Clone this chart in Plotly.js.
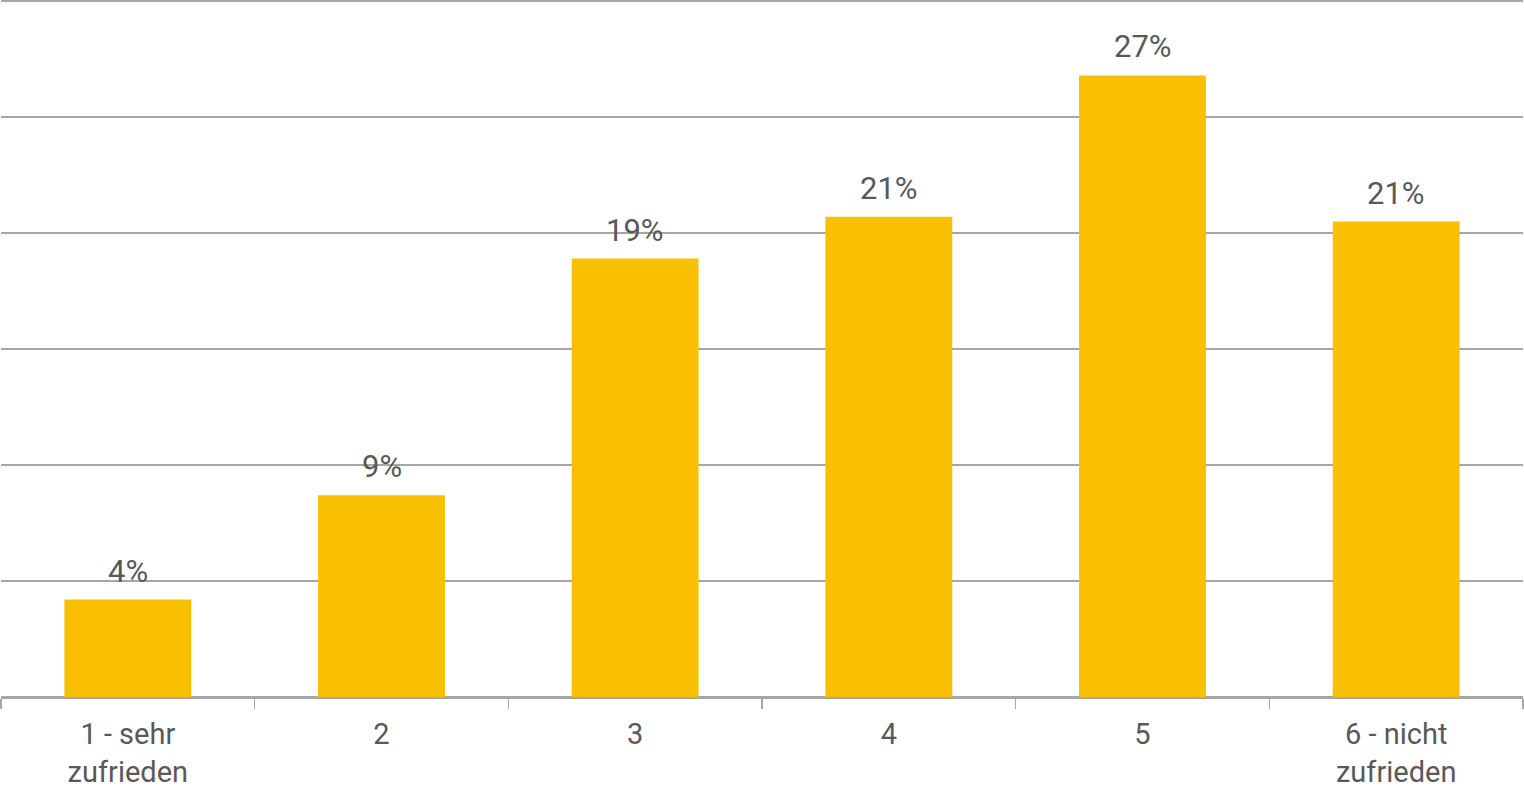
<!DOCTYPE html>
<html><head><meta charset="utf-8">
<script src="https://cdn.plot.ly/plotly-3.0.1.min.js"></script>
<style>html,body{margin:0;padding:0;background:#fff}#c{width:1524px;height:790px}</style>
</head><body><div id="c"></div>
<script>
const categories = ["1 - sehr<br>zufrieden", "2", "3", "4", "5", "6 - nicht<br>zufrieden"];
const values = [4.2, 8.7, 18.9, 20.7, 26.8, 20.5];
const labels = ["4%", "9%", "19%", "21%", "27%", "21%"];

const textColor = "#595959";
const fontFam = "'Roboto', 'Liberation Sans', sans-serif";

const annotations = categories.map((c, i) => ({
  x: i, y: values[i], text: labels[i],
  xref: "x", yref: "y",
  showarrow: false, yanchor: "bottom", yshift: 8,
  font: {color: textColor, size: 31, family: fontFam}
}));

Plotly.newPlot("c", [{
  type: "bar",
  x: categories,
  y: values,
  marker: {color: "#F8C000"},
  hoverinfo: "skip"
}], {
  width: 1524, height: 790,
  margin: {l: 1, r: 1, t: 0, b: 93, pad: 0},
  paper_bgcolor: "#fff", plot_bgcolor: "#fff",
  bargap: 0.5,
  showlegend: false,
  annotations: annotations,
  font: {family: fontFam, color: textColor, size: 30},
  xaxis: {
    type: "category",
    tickson: "boundaries",
    ticks: "outside", ticklen: 10, tickcolor: "#a6a6a6", tickwidth: 1.5,
    ticklabelstandoff: 11,
    showline: true, linecolor: "#a6a6a6", linewidth: 1.5,
    showgrid: false,
    tickfont: {size: 29, color: textColor, family: fontFam},
    fixedrange: true
  },
  yaxis: {
    range: [0, 30.05], tickvals: [5, 10, 15, 20, 25, 30],
    showticklabels: false,
    showgrid: true, gridcolor: "#a6a6a6", gridwidth: 1.5,
    zeroline: true, zerolinecolor: "#a6a6a6", zerolinewidth: 1.5,
    fixedrange: true
  }
}, {displayModeBar: false, staticPlot: true});
</script></body></html>
